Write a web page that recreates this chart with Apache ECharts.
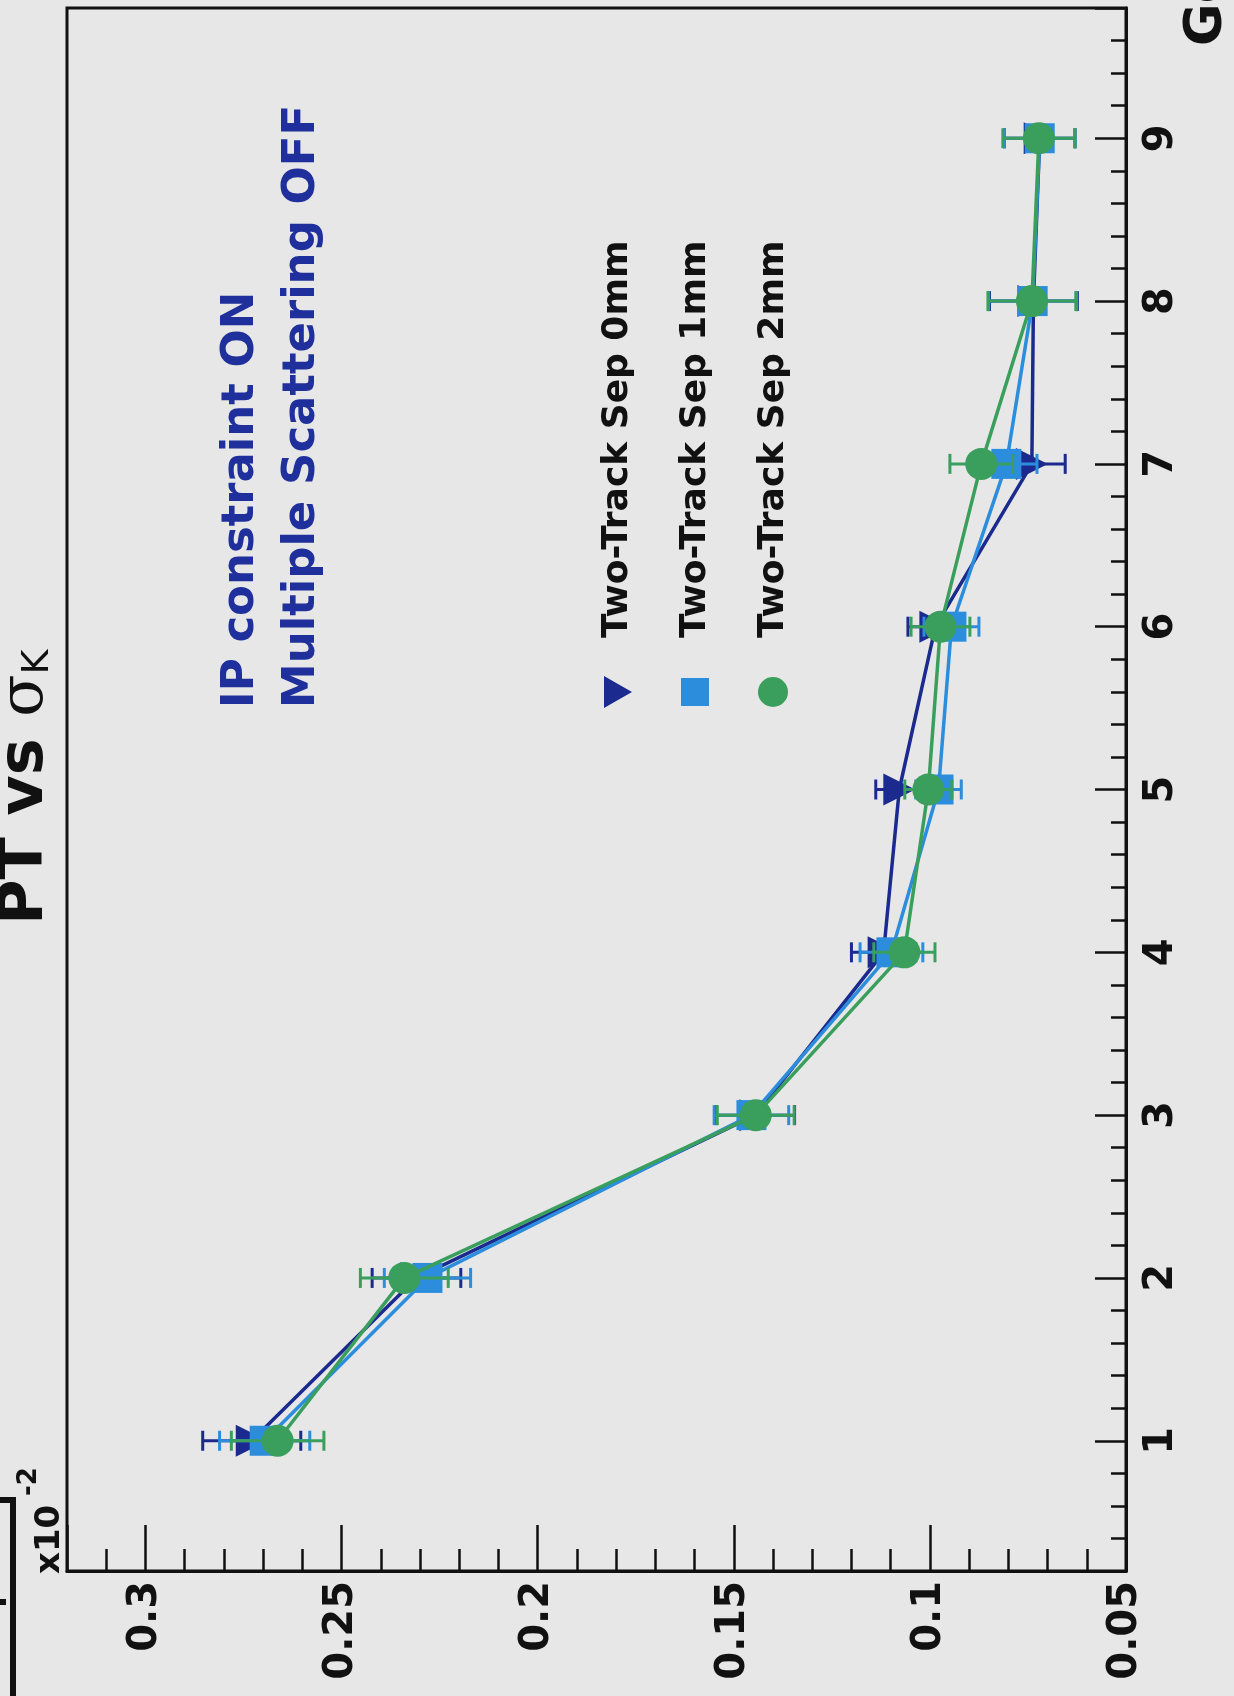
<!DOCTYPE html>
<html>
<head>
<meta charset="utf-8">
<script src="https://cdn.jsdelivr.net/npm/echarts@6/dist/echarts.min.js"></script>
<style>
  html, body { margin: 0; padding: 0; background: #e7e7e7; }
  #chart { width: 1234px; height: 1696px; }
</style>
</head>
<body>
<div id="chart"></div>
<script>
// Transverse momentum bins (GeV)
const ptValues = [1, 2, 3, 4, 5, 6, 7, 8, 9];

// sigma_K resolution (x10^-2) and its uncertainty, per two-track separation
const sigmaSep0 = [0.2729, 0.2309, 0.1445, 0.1118, 0.1078, 0.0986, 0.0740, 0.0736, 0.0720];
const errSep0   = [0.0125, 0.0113, 0.0100, 0.0082, 0.0060, 0.0070, 0.0085, 0.0112, 0.0090];
const sigmaSep1 = [0.2696, 0.2281, 0.1455, 0.1098, 0.0978, 0.0945, 0.0805, 0.0738, 0.0720];
const errSep1   = [0.0115, 0.0110, 0.0095, 0.0080, 0.0058, 0.0070, 0.0078, 0.0112, 0.0090];
const sigmaSep2 = [0.2663, 0.2340, 0.1444, 0.1065, 0.1004, 0.0973, 0.0869, 0.0740, 0.0722];
const errSep2   = [0.0118, 0.0112, 0.0098, 0.0078, 0.0060, 0.0075, 0.0080, 0.0112, 0.0092];

const seriesNames = ['Two-Track Sep 0mm', 'Two-Track Sep 1mm', 'Two-Track Sep 2mm'];
const noteLines = ['IP constraint ON', 'Multiple Scattering OFF'];

const NAVY = '#1b2a8e';
const LIGHT = '#2b8ddb';
const GREEN = '#3a9f5c';
const INK = '#111111';
const FONT = 'DejaVu Sans';

function errorBars(name, values, errs, color, z) {
  return {
    type: 'custom',
    name: name + ' errors',
    z: z,
    silent: true,
    data: values.map((v, i) => [v, ptValues[i], errs[i]]),
    encode: { x: 0, y: 1 },
    renderItem: function (params, api) {
      const v = api.value(0), pt = api.value(1), e = api.value(2);
      const lo = api.coord([v - e, pt]);
      const hi = api.coord([v + e, pt]);
      const cap = 10;
      const style = { stroke: color, lineWidth: 3 };
      return {
        type: 'group',
        children: [
          { type: 'line', shape: { x1: lo[0], y1: lo[1], x2: hi[0], y2: hi[1] }, style: style },
          { type: 'line', shape: { x1: lo[0], y1: lo[1] - cap, x2: lo[0], y2: lo[1] + cap }, style: style },
          { type: 'line', shape: { x1: hi[0], y1: hi[1] - cap, x2: hi[0], y2: hi[1] + cap }, style: style }
        ]
      };
    }
  };
}

function pointLine(name, values, color, symbol, rotate, size, z) {
  return {
    type: 'line',
    name: name,
    z: z,
    data: values.map((v, i) => [v, ptValues[i]]),
    symbol: symbol,
    symbolRotate: rotate,
    symbolSize: size,
    showAllSymbol: true,
    lineStyle: { color: color, width: 3.5 },
    itemStyle: { color: color, borderWidth: 0 },
    emphasis: { disabled: true }
  };
}

function rotatedText(text, x, y, size, color, align, vAlign, extra) {
  return Object.assign({
    type: 'text',
    x: x, y: y,
    rotation: Math.PI / 2,
    silent: true,
    style: {
      text: text,
      fill: color,
      font: 'bold ' + size + 'px "' + FONT + '"',
      textAlign: align,
      textVerticalAlign: vAlign,
      verticalAlign: vAlign
    }
  }, extra || {});
}

const legendX = [617, 695, 773];
const legendY = 692;

const graphics = [
  // plot title, partly beyond the left edge
  {
    type: 'text', x: 26, y: 925, rotation: Math.PI / 2, silent: true,
    style: {
      text: '{a|PT vs }{s|σ}{k|K}',
      textAlign: 'left', textVerticalAlign: 'middle', verticalAlign: 'middle',
      rich: {
        a: { fontFamily: FONT, fontWeight: 'bold', fontSize: 62, fill: INK, color: INK, verticalAlign: 'bottom' },
        s: { fontFamily: 'DejaVu Serif', fontSize: 62, fill: INK, color: INK, verticalAlign: 'bottom' },
        k: { fontFamily: FONT, fontSize: 38, fill: INK, color: INK, verticalAlign: 'bottom' }
      }
    }
  },
  // axis unit, running off the top edge
  rotatedText('GeV', 1207, 46, 52, INK, 'left', 'middle'),
  // exponent of the value axis
  rotatedText('x10', 50, 1574, 34, INK, 'left', 'middle'),
  rotatedText('-2', 29, 1496, 26, INK, 'left', 'middle'),
  // corner of the box at the lower left
  { type: 'polyline', silent: true, shape: { points: [[0, 1500], [13, 1500], [13, 1696]] }, style: { stroke: INK, lineWidth: 6, fill: null } },
  { type: 'line', silent: true, shape: { x1: 0, y1: 1602, x2: 6, y2: 1602 }, style: { stroke: INK, lineWidth: 6 } },
  // run conditions
  rotatedText(noteLines[0], 241, 708, 45, '#1f2f9c', 'left', 'middle'),
  rotatedText(noteLines[1], 302, 708, 45, '#1f2f9c', 'left', 'middle'),
  // legend markers
  { type: 'polygon', silent: true, shape: { points: [[legendX[0] - 13, legendY - 16], [legendX[0] - 13, legendY + 16], [legendX[0] + 15, legendY]] }, style: { fill: NAVY } },
  { type: 'rect', silent: true, shape: { x: legendX[1] - 14, y: legendY - 14, width: 28, height: 28 }, style: { fill: LIGHT } },
  { type: 'circle', silent: true, shape: { cx: legendX[2], cy: legendY, r: 15 }, style: { fill: GREEN } }
];
seriesNames.forEach((name, i) => {
  graphics.push(rotatedText(name, legendX[i] + 1, 638, 36, INK, 'left', 'middle'));
});

const chart = echarts.init(document.getElementById('chart'), null, { renderer: 'canvas' });
chart.setOption({
  animation: false,
  backgroundColor: '#e7e7e7',
  grid: {
    left: 67, top: 8, right: 108, bottom: 125,
    show: true, borderColor: INK, borderWidth: 3, backgroundColor: 'transparent',
    containLabel: false, outerBoundsMode: 'none'
  },
  xAxis: {
    type: 'value', min: 0.05, max: 0.32, interval: 0.05, inverse: true, position: 'bottom',
    axisLine: { show: true, onZero: false, lineStyle: { color: INK, width: 3 } },
    axisTick: { show: true, inside: true, length: 46, lineStyle: { color: INK, width: 2.5 } },
    minorTick: { show: true, splitNumber: 5, length: 22, lineStyle: { color: INK, width: 2.5 } },
    splitLine: { show: false },
    axisLabel: {
      rotate: 90, margin: 10, fontFamily: FONT, fontWeight: 'bold', fontSize: 40, color: INK,
      showMinLabel: true, showMaxLabel: false
    }
  },
  yAxis: {
    type: 'value', min: 0.2, max: 9.8, splitNumber: 10, position: 'right',
    axisLine: { show: true, onZero: false, lineStyle: { color: INK, width: 3 } },
    axisTick: { show: true, inside: true, length: 31, lineStyle: { color: INK, width: 2.5 } },
    minorTick: { show: true, splitNumber: 5, length: 15, lineStyle: { color: INK, width: 2.5 } },
    splitLine: { show: false },
    axisLabel: {
      rotate: 90, margin: 16, fontFamily: FONT, fontWeight: 'bold', fontSize: 40, color: INK,
      showMinLabel: false, showMaxLabel: false
    }
  },
  series: [
    errorBars(seriesNames[0], sigmaSep0, errSep0, NAVY, 2),
    pointLine(seriesNames[0], sigmaSep0, NAVY, 'triangle', -90, 32, 3),
    errorBars(seriesNames[1], sigmaSep1, errSep1, LIGHT, 4),
    pointLine(seriesNames[1], sigmaSep1, LIGHT, 'rect', 0, 30, 5),
    errorBars(seriesNames[2], sigmaSep2, errSep2, GREEN, 6),
    pointLine(seriesNames[2], sigmaSep2, GREEN, 'circle', 0, 32, 7)
  ],
  graphic: graphics
});
</script>
</body>
</html>
